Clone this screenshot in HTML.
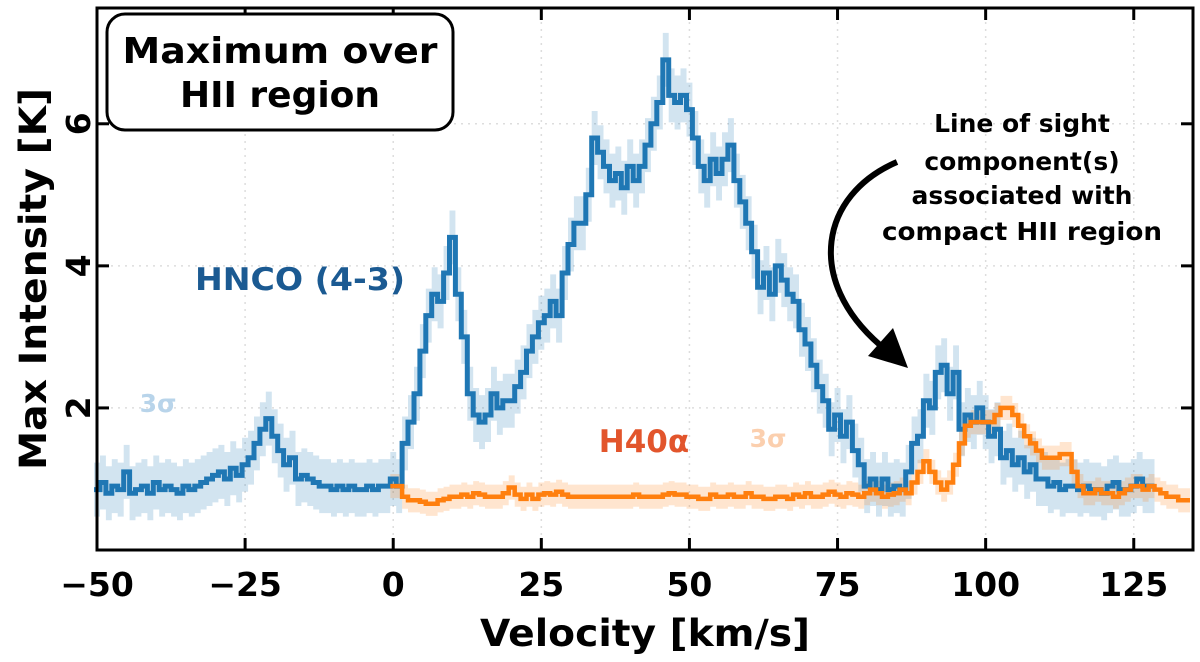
<!DOCTYPE html>
<html><head><meta charset="utf-8"><style>
body{margin:0;background:#fff}
svg{display:block;font-family:"DejaVu Sans","Liberation Sans",sans-serif}
</style></head><body>
<svg id="chart" width="1200" height="662">
<g id="grid"></g>
<g id="series"></g>
<g id="axes"></g>
<g>
<rect x="107" y="14" width="346" height="116" rx="18" fill="#fff" stroke="#000" stroke-width="3"/>
<text x="280" y="63" text-anchor="middle" font-size="36" font-weight="bold" textLength="315" lengthAdjust="spacingAndGlyphs">Maximum over</text>
<text x="280" y="107" text-anchor="middle" font-size="36" font-weight="bold">HII region</text>
</g>
<text x="300" y="290" text-anchor="middle" font-size="31" font-weight="bold" fill="#1b5a92" textLength="210" lengthAdjust="spacingAndGlyphs">HNCO (4-3)</text>
<text x="158" y="412" text-anchor="middle" font-size="25" font-weight="bold" fill="#b8d4ea">3σ</text>
<text x="644" y="452" text-anchor="middle" font-size="31" font-weight="bold" fill="#e2552c">H40α</text>
<text x="768" y="447" text-anchor="middle" font-size="25" font-weight="bold" fill="#fbcfae">3σ</text>
<g font-size="25" font-weight="bold" text-anchor="middle">
<text x="1022" y="132">Line of sight</text>
<text x="1022" y="170">component(s)</text>
<text x="1022" y="204">associated with</text>
<text x="1022" y="240" textLength="280" lengthAdjust="spacingAndGlyphs">compact HII region</text>
</g>
<g>
<path d="M897,162 C820,195 805,280 880,345" fill="none" stroke="#000" stroke-width="6"/>
<polygon points="908,368 868,356 893,328" fill="#000"/>
</g>
</svg>
<script>
const hncoV0 = -50;
const hncoVals = [0.85,0.95,0.8,0.9,0.85,1.1,0.8,0.85,0.9,0.8,0.95,0.85,0.9,0.85,0.8,0.9,0.85,0.9,0.95,1.0,
1.05,1.1,1.0,1.15,1.05,1.2,1.3,1.5,1.7,1.85,1.6,
1.4,1.2,1.3,1.0,1.05,1.0,0.95,0.9,0.9,0.85,
0.9,0.85,0.9,0.85,0.85,0.9,0.85,0.9,0.9,1.0,0.9,
1.5,1.8,2.2,2.8,3.3,3.6,3.5,3.9,4.4,3.6,3.0,2.2,1.9,1.8,1.9,2.2,2.0,2.1,2.1,
2.3,2.5,2.8,3.0,3.2,3.3,3.5,3.3,3.9,4.3,4.6,4.6,5.0,5.8,5.6,5.4,5.2,5.3,5.1,5.4,
5.2,5.4,5.7,6.0,6.3,6.9,6.4,6.3,6.4,6.2,5.8,5.4,5.2,5.5,5.3,5.5,5.7,5.2,4.9,4.6,
4.2,3.7,3.9,3.6,4.0,3.8,3.6,3.5,3.1,2.9,2.6,2.3,2.1,1.7,1.9,1.6,1.8,1.4,1.2,0.9,
1.0,0.85,1.0,0.85,0.9,0.85,1.1,1.5,1.6,2.1,2.0,2.5,2.6,2.2,2.5,1.7,1.9,1.8,2.0,1.8,
1.6,1.7,1.3,1.4,1.2,1.3,1.1,1.2,1.0,1.0,0.9,0.95,0.85,0.9,0.9,0.85,0.9,0.85,0.85,0.8,
0.9,0.95,0.85,0.85,0.9,1.0,0.9,0.9];
const hncoSigma = 0.38;
const h40V0 = 0;
const h40Vals = [0.9,0.9,0.75,0.7,0.7,0.68,0.65,0.65,0.7,0.72,0.75,0.75,0.78,0.75,0.8,0.78,0.75,0.75,0.75,0.8,
0.88,0.78,0.72,0.78,0.72,0.78,0.8,0.78,0.82,0.78,0.75,0.75,0.75,0.75,0.75,0.75,0.75,0.75,0.75,0.75,
0.75,0.78,0.75,0.75,0.75,0.75,0.78,0.8,0.78,0.78,0.75,0.75,0.72,0.72,0.78,0.75,0.75,0.78,0.75,0.75,
0.8,0.75,0.75,0.72,0.72,0.75,0.75,0.72,0.78,0.75,0.8,0.75,0.75,0.78,0.82,0.78,0.75,0.8,0.78,0.75,
0.8,0.85,0.8,0.75,0.78,0.8,0.85,0.8,0.95,1.1,1.25,1.1,0.95,0.85,0.95,1.2,1.5,1.75,1.8,1.8,
1.8,1.8,1.9,2.0,2.0,1.9,1.75,1.6,1.5,1.4,1.3,1.3,1.3,1.35,1.35,1.1,0.9,0.8,0.8,0.85,
0.8,0.8,0.75,0.8,0.85,0.9,0.9,0.85,0.9,0.85,0.8,0.75,0.75,0.7,0.7];
const h40Sigma = 0.17;
const xTicks = [-50,-25,0,25,50,75,100,125];
const yTicks = [2,4,6];

const X0=97, X1=1193, Y0=8, Y1=550, XMIN=-50, XMAX=135, YMIN=0, YMAX=7.63;
const sx = v => X0 + (v - XMIN) / (XMAX - XMIN) * (X1 - X0);
const sy = v => Y1 - (v - YMIN) / (YMAX - YMIN) * (Y1 - Y0);
const NS='http://www.w3.org/2000/svg';
function mk(tag, attrs, parent){const e=document.createElementNS(NS,tag);for(const k in attrs)e.setAttribute(k,attrs[k]);parent.appendChild(e);return e;}
const grid=document.getElementById('grid'), series=document.getElementById('series'), axes=document.getElementById('axes');

xTicks.forEach(t=>{const l=mk('line',{x1:sx(t),x2:sx(t),y1:Y0,y2:Y1,stroke:'#ddd','stroke-width':1.5,'stroke-dasharray':'2,5'},grid);

});
yTicks.forEach(t=>{const l=mk('line',{x1:X0,x2:X1,y1:sy(t),y2:sy(t),stroke:'#ddd','stroke-width':1.5,'stroke-dasharray':'2,5'},grid);

});

function stepPath(v0, vals, off){
  let d='';
  vals.forEach((v,i)=>{const xa=sx(v0+i-0.5), xb=sx(v0+i+0.5), y=sy(v+off);
    d += (i===0?'M':'L')+xa.toFixed(1)+','+y.toFixed(1)+'L'+xb.toFixed(1)+','+y.toFixed(1);});
  return d;
}
function bandPath(v0, vals, s){
  let up='', lo='';
  vals.forEach((v,i)=>{const xa=sx(v0+i-0.5), xb=sx(v0+i+0.5);
    up += (i===0?'M':'L')+xa.toFixed(1)+','+sy(v+s).toFixed(1)+'L'+xb.toFixed(1)+','+sy(v+s).toFixed(1);});
  for(let i=vals.length-1;i>=0;i--){const xa=sx(v0+i-0.5), xb=sx(v0+i+0.5);
    lo += 'L'+xb.toFixed(1)+','+sy(vals[i]-s).toFixed(1)+'L'+xa.toFixed(1)+','+sy(vals[i]-s).toFixed(1);}
  return up+lo+'Z';
}
const hb=mk('path',{d:bandPath(hncoV0,hncoVals,hncoSigma),fill:'#1f77b4','fill-opacity':0.2},series);


const ob=mk('path',{d:bandPath(h40V0,h40Vals,h40Sigma),fill:'#ff7f0e','fill-opacity':0.2},series);


const hl=mk('path',{d:stepPath(hncoV0,hncoVals,0),fill:'none',stroke:'#1f77b4','stroke-width':5,'stroke-linejoin':'miter'},series);


const ol=mk('path',{d:stepPath(h40V0,h40Vals,0),fill:'none',stroke:'#ff7f0e','stroke-width':4.5},series);



const frame=mk('rect',{x:X0,y:Y0,width:X1-X0,height:Y1-Y0,fill:'none',stroke:'#000','stroke-width':3},axes);


xTicks.forEach(t=>{
  mk('line',{x1:sx(t),x2:sx(t),y1:Y1,y2:Y1-12,stroke:'#000','stroke-width':3},axes);
  mk('line',{x1:sx(t),x2:sx(t),y1:Y0,y2:Y0+12,stroke:'#000','stroke-width':3},axes);
  const tx=mk('text',{x:sx(t),y:596,'text-anchor':'middle','font-size':33,'font-weight':'bold'},axes);
  tx.textContent = t<0 ? '\u2212'+Math.abs(t) : String(t);
  
  
});
yTicks.forEach(t=>{
  mk('line',{x1:X0,x2:X0+12,y1:sy(t),y2:sy(t),stroke:'#000','stroke-width':3},axes);
  mk('line',{x1:X1,x2:X1-12,y1:sy(t),y2:sy(t),stroke:'#000','stroke-width':3},axes);
  const tx=mk('text',{x:-sy(t),y:90,'text-anchor':'middle','font-size':33,'font-weight':'bold',transform:'rotate(-90)'},axes);
  tx.textContent=String(t);
  
  
});
const xl=mk('text',{x:645,y:646,'text-anchor':'middle','font-size':37,'font-weight':'bold',textLength:330,lengthAdjust:'spacingAndGlyphs'},axes);
xl.textContent='Velocity [km/s]';


const yl=mk('text',{x:-279,y:46,'text-anchor':'middle','font-size':37,'font-weight':'bold',transform:'rotate(-90)',textLength:382,lengthAdjust:'spacingAndGlyphs'},axes);
yl.textContent='Max Intensity [K]';


</script>
</body></html>
